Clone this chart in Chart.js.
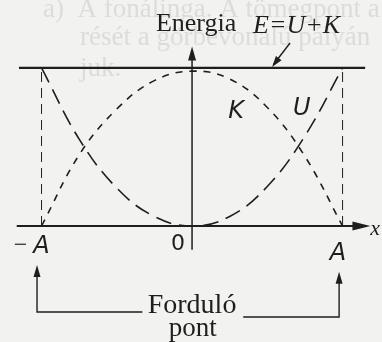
<!DOCTYPE html>
<html>
<head>
<meta charset="utf-8">
<script src="https://cdn.jsdelivr.net/npm/chart.js@4"></script>
<style>
  html, body { margin: 0; padding: 0; background: #f2f2f1; }
  #wrap { width: 382px; height: 342px; }
</style>
</head>
<body>
<div id="wrap"><canvas id="c" width="382" height="342"></canvas></div>
<script>
// positions along x, in units of the amplitude A
const xs = [-1, -0.75, -0.5, -0.25, 0, 0.25, 0.5, 0.75, 1]
// potential energy U and kinetic energy K, in units of total energy E
const potential = [1, 0.55, 0.24, 0.06, 0, 0.06, 0.25, 0.57, 1]
const kinetic = [0, 0.45, 0.74, 0.92, 0.98, 0.93, 0.75, 0.44, 0]
const totalEnergy = 1
// turning points and tick labels
const tickValues = [-1, 0, 1]
const tickLabels = ['−A', '0', 'A']

const ink = '#1e1e1e'

function pts(xArr, yArr) {
  return xArr.map((x, i) => ({ x, y: yArr[i] }))
}

const datasets = [
  // E = U + K
  { data: pts([-1.15, 1.15], [totalEnergy, totalEnergy]), borderColor: ink, borderWidth: 2.2, tension: 0 },
  // x axis
  { data: pts([-1.165, 1.14], [0, 0]), borderColor: ink, borderWidth: 2.2, tension: 0 },
  // energy axis
  { data: pts([0, 0], [-0.15, 1.08]), borderColor: ink, borderWidth: 1.5, tension: 0 },
  // turning point verticals
  { data: pts([-1, -1], [0, totalEnergy]), borderColor: ink, borderWidth: 1, borderDash: [10, 6], tension: 0 },
  { data: pts([1, 1], [0, totalEnergy]), borderColor: ink, borderWidth: 1, borderDash: [10, 6], tension: 0 },
  // U curve
  { data: pts(xs, potential), borderColor: ink, borderWidth: 1.6, borderDash: [16, 8], tension: 0.4 },
  // K curve
  { data: pts(xs, kinetic), borderColor: ink, borderWidth: 1.6, borderDash: [7, 7], tension: 0.4 },
  // "Forduló pont" brackets
  { data: pts([-1.03, -1.03, -0.33], [-0.27, -0.544, -0.544]), borderColor: ink, borderWidth: 1.4, tension: 0 },
  { data: pts([0.34, 0.977, 0.977], [-0.576, -0.576, -0.31]), borderColor: ink, borderWidth: 1.4, tension: 0 },
  // label pointer
  { data: pts([0.651, 0.54], [1.158, 1.02]), borderColor: ink, borderWidth: 1.4, tension: 0 }
]

const labels = [
  { text: 'Energia', x: 0.027, y: 1.234, font: '26px "Liberation Serif"', align: 'center' },
  { text: 'E=U+K', x: 0.405, y: 1.22, font: 'italic 26px "Liberation Serif"', align: 'left' },
  { text: 'K', x: 0.24, y: 0.684, font: 'italic 24px "DejaVu Sans"', align: 'left' },
  { text: 'U', x: 0.67, y: 0.70, font: 'italic 24px "DejaVu Sans"', align: 'left' },
  { text: 'x', x: 1.216, y: -0.057, font: 'italic 22px "Liberation Serif"', align: 'center' },
  { text: 'Forduló', x: 0.0, y: -0.55, font: '28px "Liberation Serif"', align: 'center' },
  { text: 'pont', x: 0.005, y: -0.695, font: '27px "Liberation Serif"', align: 'center' }
]
// where each tick label sits relative to its tick value
const tickOffsets = [{ dx: 0.0, dy: -0.171 }, { dx: -0.093, dy: -0.152 }, { dx: -0.03, dy: -0.215 }]

const ghost = [
  { text: 'a)  A fonálinga. A tömegpont a', x: -0.99, y: 1.32 },
  { text: 'rését a görbevonalú pályán', x: -0.744, y: 1.146 },
  { text: 'juk.', x: -0.744, y: 0.95 }
]

const decor = {
  id: 'decor',
  beforeDraw(chart) {
    const { ctx, scales: { x, y } } = chart
    ctx.save()
    ctx.fillStyle = '#f2f2f1'
    ctx.fillRect(0, 0, chart.width, chart.height)
    ctx.fillStyle = '#dcdcdb'
    ctx.font = '27px "Liberation Serif"'
    ctx.textAlign = 'left'
    ghost.forEach(g => ctx.fillText(g.text, x.getPixelForValue(g.x), y.getPixelForValue(g.y)))
    ctx.restore()
  },
  afterDatasetsDraw(chart) {
    const { ctx, scales: { x, y } } = chart
    ctx.save()
    ctx.fillStyle = ink

    function arrow(tx, ty, fx, fy, len, half) {
      const px = x.getPixelForValue(tx), py = y.getPixelForValue(ty)
      const qx = x.getPixelForValue(fx), qy = y.getPixelForValue(fy)
      const a = Math.atan2(py - qy, px - qx)
      ctx.beginPath()
      ctx.moveTo(px, py)
      ctx.lineTo(px - len * Math.cos(a) + half * Math.sin(a), py - len * Math.sin(a) - half * Math.cos(a))
      ctx.lineTo(px - len * Math.cos(a) - half * Math.sin(a), py - len * Math.sin(a) + half * Math.cos(a))
      ctx.closePath()
      ctx.fill()
    }
    arrow(1.185, 0, 1.0, 0, 18, 4.5)
    arrow(0, 1.135, 0, 0.9, 14, 4)
    arrow(-1.03, -0.247, -1.03, -0.5, 12, 3.5)
    arrow(0.977, -0.29, 0.977, -0.5, 12, 3.5)
    arrow(0.532, 1.006, 0.651, 1.158, 11, 3.5)

    ctx.textBaseline = 'alphabetic'
    labels.forEach(l => {
      ctx.font = l.font
      ctx.textAlign = l.align
      ctx.fillText(l.text, x.getPixelForValue(l.x), y.getPixelForValue(l.y))
    })

    tickValues.forEach((v, i) => {
      const o = tickOffsets[i]
      const px = x.getPixelForValue(v + o.dx), py = y.getPixelForValue(o.dy)
      const t = tickLabels[i]
      ctx.textAlign = 'center'
      if (t === '0') {
        ctx.font = '22px "DejaVu Sans"'
        ctx.fillText(t, px, py)
      } else if (t.startsWith('−')) {
        ctx.font = '24px "Liberation Serif"'
        ctx.fillText('−', px - 21, py - 1)
        ctx.font = 'italic 24px "DejaVu Sans"'
        ctx.fillText('A', px, py)
      } else {
        ctx.font = 'italic 24px "DejaVu Sans"'
        ctx.fillText(t, px, py)
      }
    })
    ctx.restore()
  }
}

new Chart(document.getElementById('c'), {
  type: 'scatter',
  data: {
    datasets: datasets.map(d => Object.assign({ showLine: true, pointRadius: 0, pointHoverRadius: 0, fill: false, borderCapStyle: 'butt' }, d))
  },
  options: {
    responsive: false,
    animation: false,
    events: [],
    layout: { padding: 0, autoPadding: false },
    plugins: { legend: { display: false }, tooltip: { enabled: false } },
    scales: {
      x: { type: 'linear', display: false, min: -1.276, max: 1.262 },
      y: { type: 'linear', display: false, min: -0.734, max: 1.430 }
    }
  },
  plugins: [decor]
})
</script>
</body>
</html>
